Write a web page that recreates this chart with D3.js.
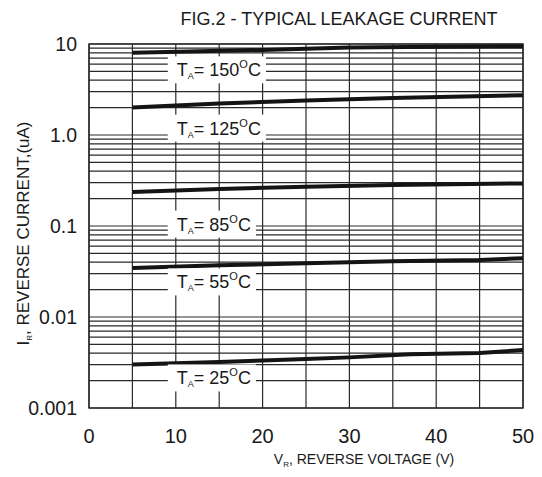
<!DOCTYPE html>
<html><head><meta charset="utf-8">
<script src="https://cdn.jsdelivr.net/npm/d3@7/dist/d3.min.js"></script>
<style>body{margin:0;background:#fff}svg{display:block;font-family:"Liberation Sans",Arial,sans-serif}</style>
</head><body><svg id="c" width="542" height="477"></svg>
<script>
// ---- data ----
const temperatures = ["150", "125", "85", "55", "25"];
const volts150 = [5, 20, 30, 40, 50];
const current150 = [8.0, 8.6, 9.15, 9.3, 9.45];
const volts125 = [5, 15, 25, 35, 50];
const current125 = [2.0, 2.22, 2.39, 2.55, 2.73];
const volts85 = [5, 15, 25, 35, 50];
const current85 = [0.236, 0.255, 0.27, 0.282, 0.294];
const volts55 = [5, 15, 25, 35, 45, 50];
const current55 = [0.0345, 0.037, 0.039, 0.041, 0.0423, 0.0442];
const volts25 = [5, 10, 15, 20, 25, 30, 37, 45, 50];
const current25 = [0.0030, 0.0031, 0.0032, 0.00332, 0.00345, 0.0036, 0.0039, 0.00402, 0.00434];
const xTickValues = [0, 10, 20, 30, 40, 50];
const yTickValues = [10, 1, 0.1, 0.01, 0.001];
const yTickLabels = ["10", "1.0", "0.1", "0.01", "0.001"];
// label anchors (data units: voltage where text starts, current at text centre)
const labelVolt = 10;
const labelCurrent = [5.2, 1.19, 0.105, 0.0243, 0.00214];

const series = [
  {t: temperatures[0], v: volts150, i: current150},
  {t: temperatures[1], v: volts125, i: current125},
  {t: temperatures[2], v: volts85, i: current85},
  {t: temperatures[3], v: volts55, i: current55},
  {t: temperatures[4], v: volts25, i: current25}
];

const svg = d3.select("#c");
const L = 89, R = 523, T = 44, B = 408;
const x = d3.scaleLinear().domain([0, 50]).range([L, R]);
const y = d3.scaleLog().domain([0.001, 10]).range([B, T]);
const gridColor = "#2a2a2a";

// grid
const g = svg.append("g");
g.selectAll("line.v").data(d3.range(0, 51, 5)).join("line")
  .attr("x1", d => x(d)).attr("x2", d => x(d)).attr("y1", T).attr("y2", B)
  .attr("stroke", gridColor).attr("stroke-width", 1.2);
const hVals = [];
[0.001, 0.01, 0.1, 1].forEach(dec => { for (let k = 1; k <= 9; k++) hVals.push(dec * k); });
hVals.push(10);
g.selectAll("line.h").data(hVals).join("line")
  .attr("x1", L).attr("x2", R).attr("y1", d => y(d)).attr("y2", d => y(d))
  .attr("stroke", gridColor).attr("stroke-width", 1.2);
svg.append("rect").attr("x", L).attr("y", T).attr("width", R - L).attr("height", B - T)
  .attr("fill", "none").attr("stroke", gridColor).attr("stroke-width", 1.4);

// curves
const line = d3.line().x(d => x(d[0])).y(d => y(d[1]));
svg.append("g").selectAll("path").data(series).join("path")
  .attr("d", s => line(s.v.map((v, k) => [v, s.i[k]])))
  .attr("fill", "none").attr("stroke", "#141414").attr("stroke-width", 4);

// labels
const lg = svg.append("g").attr("font-size", 18).attr("fill", "#1a1a1a");
series.forEach((s, k) => {
  const cy = y(labelCurrent[k]);
  const tx = x(labelVolt) + 1;
  const t = lg.append("text").attr("x", tx).attr("y", cy + 6.5);
  t.append("tspan").text("T");
  t.append("tspan").attr("font-size", 9).attr("dy", 3).text("A");
  t.append("tspan").attr("dy", -3).text("= " + s.t);
  t.append("tspan").attr("font-size", 11).attr("dy", -8).text("O");
  t.append("tspan").attr("dy", 8).text("C");
  const w = t.node().getComputedTextLength();
  lg.insert("rect", "text").attr("x", tx - 9).attr("y", cy - 13.5)
    .attr("width", w + 14).attr("height", 27).attr("fill", "#fff");
});

// y tick labels
svg.append("g").selectAll("text").data(yTickValues).join("text")
  .attr("x", 77).attr("y", d => y(d)).attr("dy", "0.36em").attr("text-anchor", "end")
  .attr("font-size", 19.5).attr("fill", "#1a1a1a").text((d, k) => yTickLabels[k]);
// x tick labels
svg.append("g").selectAll("text").data(xTickValues).join("text")
  .attr("x", d => x(d)).attr("y", 443).attr("text-anchor", "middle")
  .attr("font-size", 20).attr("fill", "#1a1a1a").text(d => d);

// title
svg.append("text").attr("x", 339).attr("y", 25).attr("text-anchor", "middle")
  .attr("font-size", 18).attr("fill", "#1a1a1a").text("FIG.2 - TYPICAL LEAKAGE CURRENT");

// axis titles
const xt = svg.append("text").attr("x", 364).attr("y", 464).attr("text-anchor", "middle")
  .attr("font-size", 14).attr("fill", "#1a1a1a");
xt.append("tspan").text("V");
xt.append("tspan").attr("font-size", 8).attr("dy", 3).text("R");
xt.append("tspan").attr("dy", -3).text(", REVERSE VOLTAGE (V)");

const yt = svg.append("text").attr("transform", "translate(29,233.5) rotate(-90)")
  .attr("text-anchor", "middle").attr("font-size", 17).attr("fill", "#1a1a1a");
yt.append("tspan").text("I");
yt.append("tspan").attr("font-size", 8).attr("dy", 3).text("R");
yt.append("tspan").attr("dy", -3).text(",  REVERSE CURRENT,(uA)");
</script></body></html>
